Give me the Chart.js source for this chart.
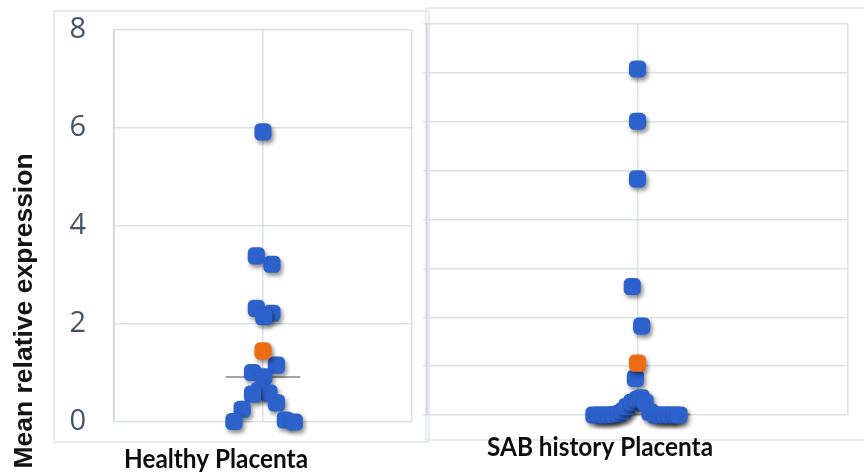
<!DOCTYPE html>
<html>
<head>
<meta charset="utf-8">
<title>Mean relative expression</title>
<script src="https://cdn.jsdelivr.net/npm/chart.js@4.4.1/dist/chart.umd.min.js"></script>
<style>
  html, body { margin: 0; padding: 0; background: #ffffff; }
  #wrap { position: relative; width: 864px; height: 475px; overflow: hidden; }
  #wrap canvas { position: absolute; left: 0; top: 0; }
</style>
</head>
<body>
<div id="wrap">
  <canvas id="healthyChart" width="864" height="475"></canvas>
  <canvas id="sabChart" width="864" height="475"></canvas>
</div>
<script>
// ---- data -------------------------------------------------------------
const groups = ['Healthy Placenta', 'SAB history Placenta'];
const axisTitle = 'Mean relative expression';

// Healthy placenta: individual samples (value, horizontal jitter)
const healthyValues = [5.92, 3.39, 3.22, 2.32, 2.22, 2.15, 1.16, 1.01, 0.92, 0.64, 0.59, 0.57, 0.39, 0.26, 0.04, 0.01, 0.00];
const healthyJitter = [0.00, -0.045, 0.06, -0.045, 0.06, 0.005, 0.09, -0.07, 0.005, -0.025, 0.04, -0.07, 0.09, -0.14, 0.15, -0.195, 0.21];
const healthyMean = 1.45;
const healthyMedian = 0.92;
const healthyTicks = [0, 2, 4, 6, 8];

// SAB history placenta: individual samples (value, horizontal jitter)
const sabValues = [7.08, 6.01, 4.83, 2.63, 1.82, 0.75,
  0.00, 0.00, 0.00, 0.00, 0.01, 0.03, 0.08, 0.17, 0.26, 0.32, 0.35, 0.26, 0.06,
  0.00, 0.00, 0.00, 0.00, 0.00, 0.00];
const sabJitter = [0.00, 0.00, 0.00, -0.025, 0.02, -0.01,
  -0.207, -0.183, -0.159, -0.135, -0.112, -0.088, -0.069, -0.05, -0.026, 0.00, 0.017, 0.036, 0.059,
  0.083, 0.107, 0.131, 0.154, 0.178, 0.197];
const sabMean = 1.06;
const sabMedian = 0.01;
const sabTicks = [0, 1, 2, 3, 4, 5, 6, 7, 8];

const medianHalfWidth = 0.25;

// ---- styling ----------------------------------------------------------
const BLUE = '#2d62cc';
const ORANGE = '#eb6c12';
const GRID = '#dadfe8';
const AXIS = '#cbd3e2';
const FRAME = '#dfe3ea';

const toPoints = (vals, jit) => vals.map((v, i) => ({ x: jit[i], y: v }));

// soft drop shadow under the sample markers
const markerShadow = {
  id: 'markerShadow',
  beforeDatasetDraw(chart, args) {
    if (!chart.data.datasets[args.index].shadow) return;
    const c = chart.ctx;
    c.save();
    c.shadowColor = 'rgba(0,0,0,0.45)';
    c.shadowBlur = 4;
    c.shadowOffsetX = 2;
    c.shadowOffsetY = 3;
  },
  afterDatasetDraw(chart, args) {
    if (chart.data.datasets[args.index].shadow) chart.ctx.restore();
  }
};

// outer panel frame plus free-standing labels
function panelDecor(frame, labels) {
  return {
    id: 'panelDecor',
    beforeDraw(chart) {
      const c = chart.ctx;
      c.save();
      c.strokeStyle = FRAME;
      c.lineWidth = 1.5;
      c.strokeRect(frame.left, frame.top, frame.right - frame.left, frame.bottom - frame.top);
      c.restore();
    },
    afterDraw(chart) {
      const c = chart.ctx;
      labels.forEach(l => {
        c.save();
        c.font = l.font;
        c.fillStyle = l.color;
        c.textAlign = 'center';
        c.textBaseline = 'alphabetic';
        c.translate(l.x, l.y);
        if (l.rotation) c.rotate(l.rotation);
        if (l.maxWidth) c.fillText(l.text, 0, 0, l.maxWidth);
        else c.fillText(l.text, 0, 0);
        c.restore();
      });
    }
  };
}

function buildDatasets(values, jitter, mean, median) {
  return [
    {
      label: 'median',
      type: 'line',
      data: [{ x: -medianHalfWidth, y: median }, { x: medianHalfWidth, y: median }],
      borderColor: '#a3a3a3',
      borderWidth: 2,
      pointRadius: 0,
      showLine: true,
      clip: false,
      order: 3
    },
    {
      label: 'samples',
      data: toPoints(values, jitter),
      pointStyle: 'rectRounded',
      pointRadius: 10,
      backgroundColor: BLUE,
      borderWidth: 0,
      clip: false,
      shadow: true,
      order: 2
    },
    {
      label: 'mean',
      data: [{ x: 0, y: mean }],
      pointStyle: 'rectRounded',
      pointRadius: 10,
      backgroundColor: ORANGE,
      borderWidth: 0,
      clip: false,
      shadow: true,
      order: 1
    }
  ];
}

function xScale(height) {
  return {
    type: 'linear', min: -1, max: 1,
    afterBuildTicks: s => { s.ticks = [{ value: -1 }, { value: 0 }, { value: 1 }]; },
    ticks: { display: false },
    grid: { color: GRID, lineWidth: 1.5, drawTicks: false },
    border: { display: false },
    afterFit: s => { s.height = height; s.paddingLeft = 0; s.paddingRight = 0; }
  };
}

const common = {
  responsive: false,
  animation: false,
  events: [],
  plugins: { legend: { display: false }, tooltip: { enabled: false } }
};

// ---- healthy panel ----------------------------------------------------
new Chart(document.getElementById('healthyChart'), {
  type: 'scatter',
  data: { datasets: buildDatasets(healthyValues, healthyJitter, healthyMean, healthyMedian) },
  options: Object.assign({}, common, {
    layout: { padding: { left: 0, top: 30, right: 452, bottom: 0 } },
    scales: {
      x: xScale(53),
      y: {
        min: 0, max: 8,
        afterBuildTicks: s => { s.ticks = healthyTicks.map(v => ({ value: v })); },
        ticks: { font: { family: 'Open Sans', size: 29 }, color: '#44546a', padding: 28 },
        grid: { color: GRID, lineWidth: 1.5, drawTicks: false },
        border: { color: AXIS, width: 1.5 },
        afterFit: s => { s.width = 114; s.paddingTop = 0; s.paddingBottom = 0; }
      }
    }
  }),
  plugins: [markerShadow, panelDecor(
    { left: 54, top: 11, right: 429, bottom: 442 },
    [
      { text: axisTitle, x: 32, y: 311, rotation: -Math.PI / 2, font: 'bold 26.5px "Liberation Sans", Arial, sans-serif', color: '#141414' },
      { text: groups[0], x: 216, y: 468, font: 'bold 27px Lato, "Open Sans", sans-serif', color: '#0d0d0d', maxWidth: 184 }
    ]
  )]
});

// ---- SAB history panel -------------------------------------------------
new Chart(document.getElementById('sabChart'), {
  type: 'scatter',
  data: { datasets: buildDatasets(sabValues, sabJitter, sabMean, sabMedian) },
  options: Object.assign({}, common, {
    layout: { padding: { left: 423, top: 24, right: 16, bottom: 0 } },
    scales: {
      x: xScale(60),
      y: {
        min: 0, max: 8,
        afterBuildTicks: s => { s.ticks = sabTicks.map(v => ({ value: v })); },
        ticks: { display: false },
        grid: { color: GRID, lineWidth: 1.5, drawTicks: true, tickLength: 4 },
        border: { color: AXIS, width: 1.5 },
        afterFit: s => { s.width = 4; s.paddingTop = 0; s.paddingBottom = 0; }
      }
    }
  }),
  plugins: [markerShadow, panelDecor(
    { left: 426, top: 8, right: 880, bottom: 440 },
    [
      { text: groups[1], x: 600, y: 456, font: 'bold 27px Lato, "Open Sans", sans-serif', color: '#0d0d0d', maxWidth: 226 }
    ]
  )]
});
</script>
</body>
</html>
